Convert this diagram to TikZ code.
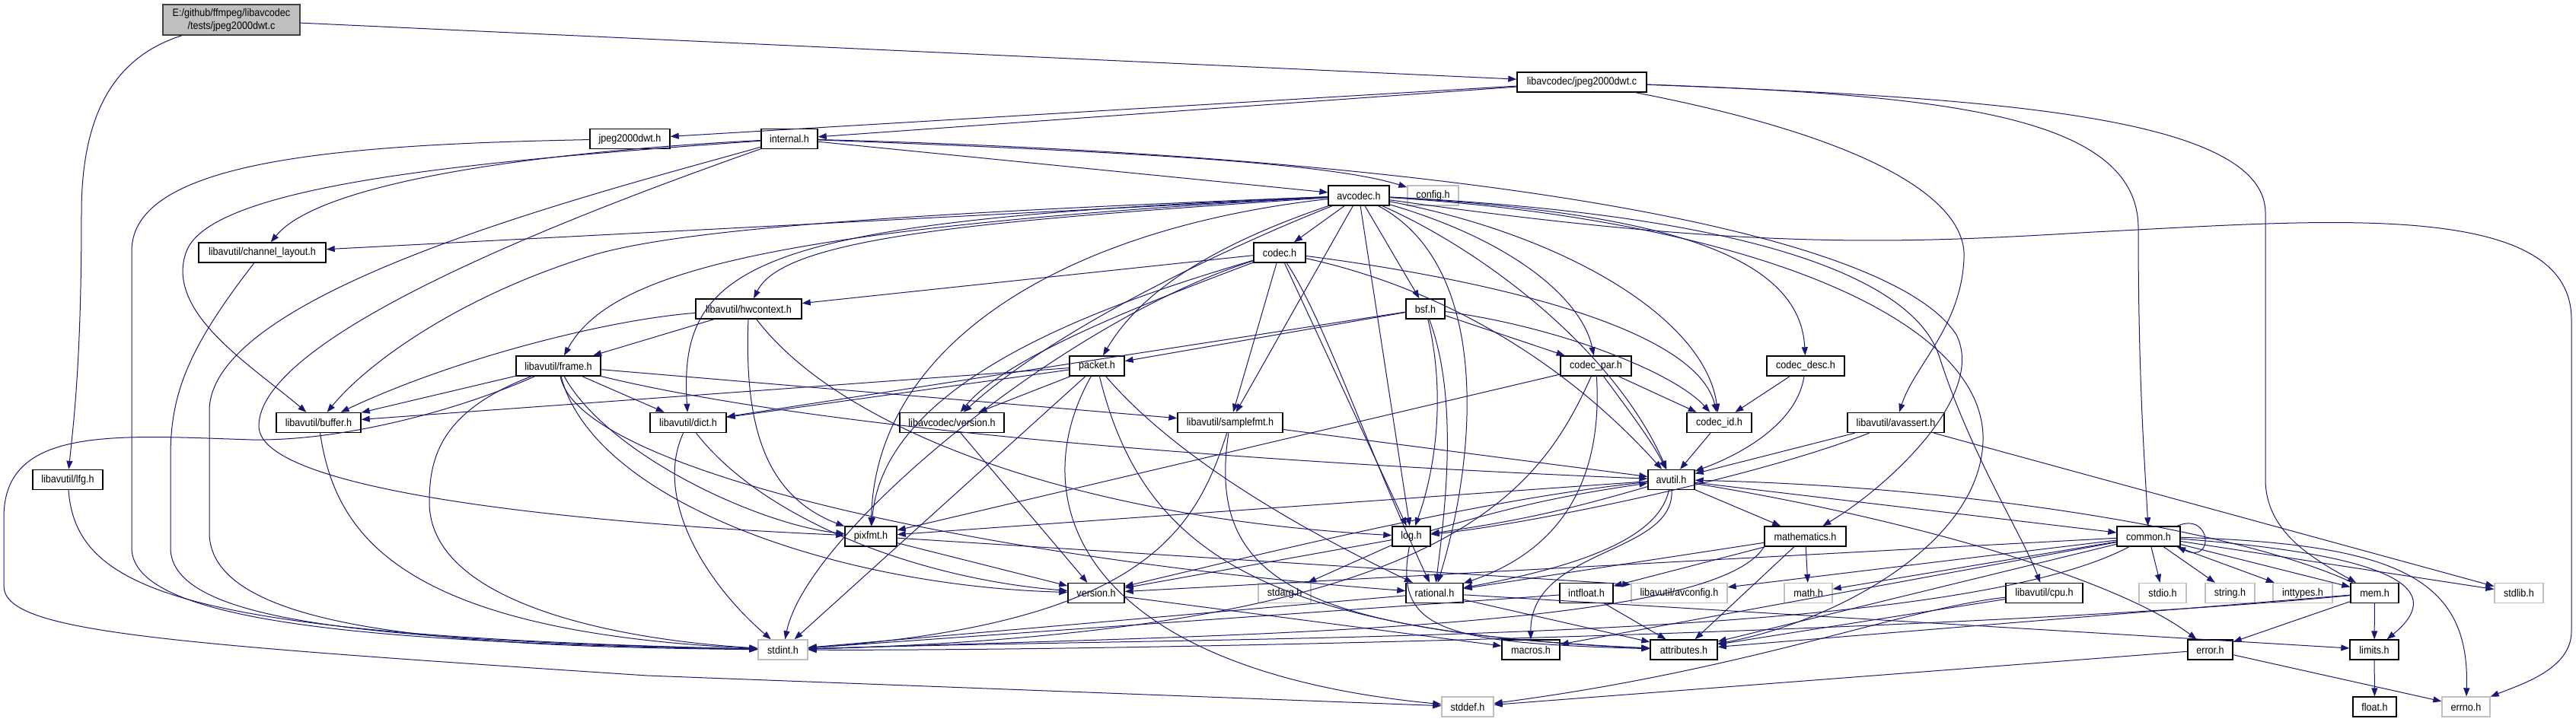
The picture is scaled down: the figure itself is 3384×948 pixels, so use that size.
\documentclass[tikz,border=0pt]{standalone}
\usepackage{fontspec}
\setmainfont{Liberation Sans}[FakeStretch=0.9]
\usetikzlibrary{arrows.meta}
\definecolor{edgec}{HTML}{191970}
\definecolor{grayb}{HTML}{BFBFBF}
\begin{document}
\begin{tikzpicture}[x=1pt,y=-1pt,
  nd/.style={draw=black, line width=1.4pt, fill=white, minimum height=26pt, inner sep=0pt, font=\fontsize{14}{17}\selectfont},
  ext/.style={nd, draw=grayb},
  rootnd/.style={nd, fill=grayb, draw=black!75, align=center, minimum height=40pt},
  dep/.style={draw=edgec, line width=1pt, -{Triangle[length=11pt,width=8pt]}}
]
\path[use as bounding box, fill=white] (0,0) rectangle (3384,948);

% nodes
\node[rootnd, minimum width=180pt] (root) at (304,26) {E:/github/ffmpeg/libavcodec\\/tests/jpeg2000dwt.c};
\node[nd, minimum width=170pt] (jdwtc) at (2078,108) {libavcodec/jpeg2000dwt.c};
\node[nd, minimum width=105pt] (jdwth) at (827.5,182.5) {jpeg2000dwt.h};
\node[nd, minimum width=74pt] (internal) at (1037,182.5) {internal.h};
\node[ext, minimum width=67pt] (config) at (1882.5,257) {config.h};
\node[nd, minimum width=80pt] (avcodec) at (1785,257) {avcodec.h};
\node[nd, minimum width=167pt] (chlayout) at (344.5,332) {libavutil/channel\_layout.h};
\node[nd, minimum width=68pt] (codec) at (1681,332) {codec.h};
\node[nd, minimum width=139pt] (hwctx) at (983.5,406) {libavutil/hwcontext.h};
\node[nd, minimum width=51pt] (bsf) at (1872.5,406) {bsf.h};
\node[nd, minimum width=111pt] (frame) at (733.5,481) {libavutil/frame.h};
\node[nd, minimum width=72pt] (packet) at (1441,481) {packet.h};
\node[nd, minimum width=93pt] (codecpar) at (2096.5,481) {codec\_par.h};
\node[nd, minimum width=102pt] (codecdesc) at (2372,481) {codec\_desc.h};
\node[nd, minimum width=111pt] (buffer) at (418.5,555.5) {libavutil/buffer.h};
\node[nd, minimum width=100pt] (dict) at (904,555.5) {libavutil/dict.h};
\node[nd, minimum width=137pt] (lavcversion) at (1250.5,555.5) {libavcodec/version.h};
\node[nd, minimum width=138pt] (samplefmt) at (1616,555.5) {libavutil/samplefmt.h};
\node[nd, minimum width=85pt] (codecid) at (2258.5,555.5) {codec\_id.h};
\node[nd, minimum width=127pt] (avassert) at (2490.5,555.5) {libavutil/avassert.h};
\node[nd, minimum width=92pt] (lfg) at (89,630.5) {libavutil/lfg.h};
\node[nd, minimum width=61pt] (avutil) at (2195.5,630.5) {avutil.h};
\node[nd, minimum width=68pt] (pixfmt) at (1144,705) {pixfmt.h};
\node[nd, minimum width=50pt] (log) at (1854,705) {log.h};
\node[nd, minimum width=107pt] (mathematics) at (2371.5,705) {mathematics.h};
\node[nd, minimum width=83pt] (common) at (2822.5,705) {common.h};
\node[nd, minimum width=74pt] (version) at (1440,779.5) {version.h};
\node[ext, minimum width=69pt] (stdarg) at (1687.5,779.5) {stdarg.h};
\node[nd, minimum width=75pt] (rational) at (1884.5,779.5) {rational.h};
\node[nd, minimum width=70pt] (intfloat) at (2084,779.5) {intfloat.h};
\node[ext, minimum width=126pt] (avconfig) at (2206,779.5) {libavutil/avconfig.h};
\node[ext, minimum width=63pt] (math) at (2375.5,779.5) {math.h};
\node[nd, minimum width=101pt] (cpu) at (2685.5,779.5) {libavutil/cpu.h};
\node[ext, minimum width=62pt] (stdio) at (2841,779.5) {stdio.h};
\node[ext, minimum width=65pt] (string) at (2929.5,779.5) {string.h};
\node[ext, minimum width=78pt] (inttypes) at (3025,779.5) {inttypes.h};
\node[nd, minimum width=63pt] (mem) at (3119.5,779.5) {mem.h};
\node[ext, minimum width=64pt] (stdlib) at (3309,779.5) {stdlib.h};
\node[ext, minimum width=65pt] (stdint) at (1028.5,854) {stdint.h};
\node[nd, minimum width=76pt] (macros) at (2011,854) {macros.h};
\node[nd, minimum width=88pt] (attributes) at (2212,854) {attributes.h};
\node[nd, minimum width=59pt] (error) at (2903.5,854) {error.h};
\node[nd, minimum width=64pt] (limits) at (3119,854) {limits.h};
\node[ext, minimum width=68pt] (stddef) at (1928,929) {stddef.h};
\node[nd, minimum width=57pt] (float) at (3119.5,929) {float.h};
\node[ext, minimum width=63pt] (errno) at (3239.5,929) {errno.h};

% root
\draw[dep] (root) -- (jdwtc);
\draw[dep] (root) .. controls (150,75) and (107,150) .. (107,280) .. controls (107,480) and (96,560) .. (lfg);
% jpeg2000dwt.c
\draw[dep] (jdwtc) -- (jdwth);
\draw[dep] (jdwtc) -- (internal);
\draw[dep] (jdwtc) .. controls (2450,180) and (2585,260) .. (2580,340) .. controls (2576,430) and (2515,480) .. (avassert);
\draw[dep] (jdwtc) .. controls (2550,125) and (2809,150) .. (2809,300) .. controls (2809,500) and (2817,600) .. (common);
\draw[dep] (jdwtc) .. controls (2600,128) and (2976,150) .. (2976,280) -- (2976,630) .. controls (2976,700) and (3040,735) .. (mem);
% jpeg2000dwt.h
\draw[dep] (jdwth) .. controls (450,190) and (173,210) .. (173,330) -- (173,720) .. controls (173,820) and (500,845) .. (stdint);
% internal.h
\draw[dep] (internal) .. controls (800,250) and (275,380) .. (275,540) -- (275,700) .. controls (275,830) and (600,850) .. (stdint);
\draw[dep] (internal) .. controls (650,210) and (280,240) .. (245,330) .. controls (215,410) and (330,480) .. (buffer);
\draw[dep] (internal) .. controls (700,200) and (420,240) .. (chlayout);
\draw[dep] (internal) .. controls (760,280) and (340,440) .. (340,560) .. controls (340,650) and (800,690) .. (pixfmt);
\draw[dep] (internal) -- (avcodec);
\draw[dep] (internal) .. controls (1500,200) and (1750,215) .. (config);
\draw[dep] (internal) .. controls (1900,205) and (2480,300) .. (2570,440) .. controls (2610,520) and (2480,640) .. (mathematics);
% avcodec.h
\draw[dep] (avcodec) .. controls (2300,330) and (2500,320) .. (2750,305) .. controls (3050,290) and (3378,260) .. (3378,420) -- (3378,830) .. controls (3378,880) and (3310,900) .. (errno);
\draw[dep] (avcodec) -- (samplefmt);
\draw[dep] (avcodec) .. controls (2300,290) and (2610,420) .. (2605,580) .. controls (2600,720) and (2400,820) .. (attributes);
\draw[dep] (avcodec) .. controls (1950,330) and (2120,460) .. (avutil);
\draw[dep] (avcodec) .. controls (1200,280) and (900,300) .. (780,335) .. controls (600,390) and (480,480) .. (buffer);
\draw[dep] (avcodec) .. controls (2350,285) and (2520,380) .. (2548,470) .. controls (2590,600) and (2655,700) .. (cpu);
\draw[dep] (avcodec) -- (chlayout);
\draw[dep] (avcodec) .. controls (1000,290) and (890,340) .. (dict);
\draw[dep] (avcodec) .. controls (1000,300) and (800,360) .. (frame);
\draw[dep] (avcodec) .. controls (1300,290) and (1030,310) .. (hwctx);
\draw[dep] (avcodec) -- (log);
\draw[dep] (avcodec) .. controls (1400,300) and (1150,450) .. (pixfmt);
\draw[dep] (avcodec) .. controls (1960,350) and (1940,600) .. (rational);
\draw[dep] (avcodec) -- (bsf);
\draw[dep] (avcodec) -- (codec);
\draw[dep] (avcodec) .. controls (2200,280) and (2365,340) .. (codecdesc);
\draw[dep] (avcodec) .. controls (2000,320) and (2080,400) .. (codecpar);
\draw[dep] (avcodec) .. controls (2060,310) and (2240,420) .. (codecid);
\draw[dep] (avcodec) .. controls (1600,320) and (1500,380) .. (packet);
\draw[dep] (avcodec) .. controls (1650,310) and (1400,420) .. (lavcversion);
% codec.h
\draw[dep] (codec) .. controls (1400,420) and (1060,700) .. (stdint);
\draw[dep] (codec) .. controls (1900,380) and (2060,480) .. (avutil);
\draw[dep] (codec) -- (hwctx);
\draw[dep] (codec) -- (log);
\draw[dep] (codec) .. controls (1450,400) and (1160,500) .. (pixfmt);
\draw[dep] (codec) .. controls (1740,420) and (1800,600) .. (rational);
\draw[dep] (codec) -- (samplefmt);
\draw[dep] (codec) .. controls (1900,360) and (2225,420) .. (codecid);
\draw[dep] (codec) .. controls (1500,400) and (1320,470) .. (lavcversion);
% bsf.h
\draw[dep] (bsf) -- (dict);
\draw[dep] (bsf) .. controls (1900,520) and (1885,620) .. (log);
\draw[dep] (bsf) .. controls (1915,520) and (1900,660) .. (rational);
\draw[dep] (bsf) .. controls (2050,430) and (2200,490) .. (codecid);
\draw[dep] (bsf) -- (codecpar);
\draw[dep] (bsf) -- (packet);
% codec_par.h
\draw[dep] (codecpar) .. controls (2020,650) and (1900,830) .. (stdint);
\draw[dep] (codecpar) .. controls (2140,540) and (2170,580) .. (avutil);
\draw[dep] (codecpar) .. controls (2105,620) and (2060,720) .. (rational);
\draw[dep] (codecpar) -- (pixfmt);
\draw[dep] (codecpar) -- (codecid);
% codec_desc.h
\draw[dep] (codecdesc) .. controls (2360,560) and (2280,600) .. (avutil);
\draw[dep] (codecdesc) -- (codecid);
% codec_id.h
\draw[dep] (codecid) -- (avutil);
% packet.h
\draw[dep] (packet) .. controls (1340,660) and (1420,880) .. (stddef);
\draw[dep] (packet) -- (stdint);
\draw[dep] (packet) .. controls (1500,720) and (1650,830) .. (attributes);
\draw[dep] (packet) -- (buffer);
\draw[dep] (packet) -- (dict);
\draw[dep] (packet) .. controls (1560,620) and (1760,720) .. (rational);
\draw[dep] (packet) -- (lavcversion);
\draw[dep] (lavcversion) -- (version);
% hwcontext.h
\draw[dep] (hwctx) .. controls (800,420) and (600,470) .. (buffer);
\draw[dep] (hwctx) -- (frame);
\draw[dep] (hwctx) .. controls (1100,560) and (1400,680) .. (log);
\draw[dep] (hwctx) .. controls (978,550) and (1000,650) .. (pixfmt);
% frame.h
\draw[dep] (frame) .. controls (600,540) and (450,580) .. (330,578) .. controls (150,572) and (5,560) .. (5,680) -- (5,770) .. controls (5,830) and (200,845) .. (850,888) -- (stddef);
\draw[dep] (frame) .. controls (580,540) and (564,600) .. (564,660) .. controls (564,790) and (800,840) .. (stdint);
\draw[dep] (frame) .. controls (1100,570) and (1700,610) .. (avutil);
\draw[dep] (frame) -- (buffer);
\draw[dep] (frame) -- (dict);
\draw[dep] (frame) .. controls (760,620) and (1300,735) .. (rational);
\draw[dep] (frame) -- (samplefmt);
\draw[dep] (frame) .. controls (800,600) and (1000,690) .. (pixfmt);
\draw[dep] (frame) .. controls (780,660) and (1100,770) .. (version);
% buffer.h, dict.h
\draw[dep] (buffer) .. controls (440,700) and (520,830) .. (stdint);
\draw[dep] (dict) .. controls (860,650) and (920,760) .. (stdint);
\draw[dep] (dict) .. controls (1000,680) and (1200,760) .. (version);
% samplefmt.h
\draw[dep] (samplefmt) .. controls (1570,700) and (1500,820) .. (stdint);
\draw[dep] (samplefmt) -- (avutil);
\draw[dep] (samplefmt) .. controls (1585,760) and (1700,830) .. (attributes);
% avassert.h
\draw[dep] (avassert) -- (stdlib);
\draw[dep] (avassert) -- (avutil);
\draw[dep] (avassert) .. controls (2300,630) and (2000,690) .. (log);
% lfg.h, channel_layout.h
\draw[dep] (lfg) .. controls (100,780) and (250,835) .. (stdint);
\draw[dep] (chlayout) .. controls (245,460) and (224,520) .. (224,600) -- (224,720) .. controls (224,820) and (500,842) .. (stdint);
% avutil.h
\draw[dep] (avutil) -- (common);
\draw[dep] (avutil) .. controls (2500,680) and (2780,760) .. (error);
\draw[dep] (avutil) .. controls (2180,700) and (2100,740) .. (rational);
\draw[dep] (avutil) .. controls (1950,655) and (1650,730) .. (version);
\draw[dep] (avutil) .. controls (2200,730) and (2010,720) .. (macros);
\draw[dep] (avutil) -- (mathematics);
\draw[dep] (avutil) to[bend left=4] (log);
\draw[dep] (avutil) -- (pixfmt);
% log.h
\draw[dep] (log) -- (stdarg);
\draw[dep] (log) to[bend left=4] (avutil);
\draw[dep] (log) .. controls (1830,830) and (1900,845) .. (attributes);
\draw[dep] (log) -- (version);
% rational.h
\draw[dep] (rational) -- (stdint);
\draw[dep] (rational) -- (limits);
\draw[dep] (rational) -- (attributes);
% pixfmt.h, version.h
\draw[dep] (pixfmt) -- (avconfig.170);
\draw[dep] (pixfmt) -- (version);
\draw[dep] (version) -- (macros);
% mathematics.h
\draw[dep] (mathematics.south west) .. controls (2250,830) and (1600,835) .. (stdint);
\draw[dep] (mathematics) -- (math);
\draw[dep] (mathematics) -- (attributes);
\draw[dep] (mathematics) -- (rational);
\draw[dep] (mathematics) -- (intfloat);
% intfloat.h
\draw[dep] (intfloat) -- (stdint);
\draw[dep] (intfloat) -- (attributes);
% common.h
\draw[dep] (common) .. controls (3150,715) and (3245,760) .. (errno);
\draw[dep] (common) -- (inttypes);
\draw[dep] (common) .. controls (3150,730) and (3215,775) .. (limits);
\draw[dep] (common) -- (math);
\draw[dep] (common) .. controls (2550,850) and (1600,835) .. (stdint);
\draw[dep] (common) -- (stdio);
\draw[dep] (common) -- (stdlib);
\draw[dep] (common) -- (string);
\draw[dep] (common) -- (attributes);
\draw[dep] (common) -- (macros);
\draw[dep] (common) -- (version);
\draw[dep] (common) -- (avconfig);
\draw[dep] (common) -- (mem);
\draw[dep] (common.20) .. controls (2905,672) and (2910,742) .. (common.-20);
% mem.h
\draw[dep] (mem) -- (limits);
\draw[dep] (mem) .. controls (2600,830) and (1500,856) .. (stdint);
\draw[dep] (mem) -- (attributes);
\draw[dep] (mem) -- (error);
\draw[dep] (mem) .. controls (2950,700) and (2600,640) .. (avutil);
% error.h, limits.h, cpu.h
\draw[dep] (error) -- (errno);
\draw[dep] (error) -- (stddef);
\draw[dep] (limits) -- (float);
\draw[dep] (cpu) .. controls (2500,800) and (2300,880) .. (stddef);
\draw[dep] (cpu) -- (attributes);
\end{tikzpicture}
\end{document}
